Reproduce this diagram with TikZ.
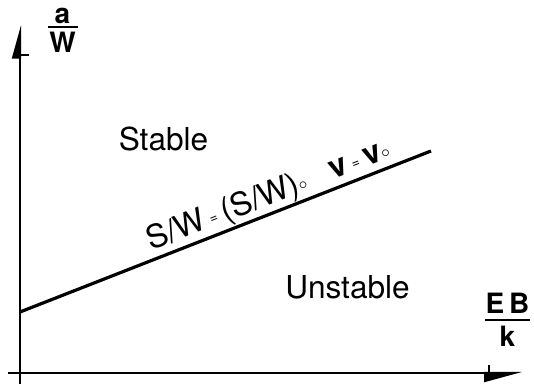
\documentclass[tikz,border=0pt]{standalone}
\usepackage{fontspec}
\setmainfont{TeX Gyre Heros}
\usetikzlibrary{arrows.meta}
\tikzset{
  % axes with half (harpoon) heads
  axis/.style  = {line width=1pt, black},
  yhead/.style = {-{Triangle[harpoon, length=15pt, width=8pt]}},
  xhead/.style = {-{Triangle[harpoon, swap, length=17pt, width=9pt]}},
  bound/.style = {line width=1.6pt, black},
  region/.style = {font=\fontsize{15.8}{18}\selectfont, inner sep=0pt},
  frac/.style  = {font=\fontsize{14}{16}\selectfont\bfseries, inner sep=0pt, anchor=south},
  eqn/.style   = {font=\fontsize{16}{18}\selectfont, inner sep=0pt},
}
% stacked fraction: numerator, gap above bar, bar width, gap below bar, denominator
\newcommand{\stackfrac}[5]{\vbox{\hbox to #3{\hss#1\hss}\kern#2\hrule height 1pt\kern#4\hbox to #3{\hss#5\hss}}}
\newcommand{\smeq}{\,{\raisebox{0.2ex}{\scriptsize=}}\,}
\newcommand{\nought}{\raisebox{0.1ex}{\fontsize{8}{9}\selectfont$\circ$}}
\begin{document}
\begin{tikzpicture}[x=0.5pt,y=0.5pt]
\useasboundingbox (0,0) rectangle (534,384);
% axes
\coordinate (ybot) at (20,0);
\coordinate (ytop) at (20,359);
\coordinate (xlft) at (8,11);
\coordinate (xrgt) at (522,11);
\draw[axis, yhead] (ybot) -- (ytop);
\draw[axis, xhead] (xlft) -- (xrgt);
\draw[axis] (20,329) -- (29,329);
\draw[axis] (489,11) -- (489,19);
% axis labels
\node[frac] (aw) at (62.5,331) {\stackfrac{a}{1.2pt}{15pt}{2.2pt}{W}};
\node[frac] (ebk) at (507.5,37) {\stackfrac{E\,B}{3pt}{22.5pt}{2.5pt}{k}};
% boundary
\coordinate (lnA) at (20,72);
\coordinate (lnB) at (431,233);
\draw[bound] (lnA) -- (lnB)
  node[eqn, pos=0.62, sloped, anchor=base, yshift=4.5pt] (crit)
  {S/W\smeq(S/W)\nought\hspace{0.8em}\textbf{v}\smeq\textbf{v}\nought};
% regions
\node[region] (stable) at (163.5,245) {Stable};
\node[region] (unstable) at (347.5,96.5) {Unstable};
\end{tikzpicture}
\end{document}
